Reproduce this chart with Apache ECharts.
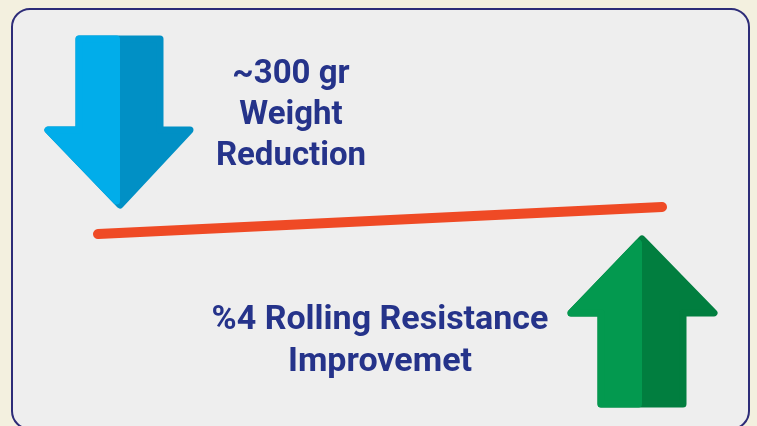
<!DOCTYPE html>
<html>
<head>
<meta charset="utf-8">
<script src="https://cdn.jsdelivr.net/npm/echarts@6/dist/echarts.min.js"></script>
<style>
    html, body { margin: 0; padding: 0; background: #f3f0df; }
    #chart { width: 757px; height: 426px; }
</style>
</head>
<body>
<div id="chart"></div>
<script>
// text blocks
const topLabel = ['~300 gr', 'Weight', 'Reduction'];
const bottomLabel = ['%4 Rolling Resistance', 'Improvemet'];

// the tilted bar: low on the left, high on the right
const slopeCats = ['before', 'after'];
const slopeValues = [0, 1];

const textColor = '#25338a';

// arrow outline with one colour per half, corners rounded by a stroke
function arrow(points, leftPts, dark, light) {
    return [
        { type: 'polygon', shape: { points: points },
          style: { fill: dark, stroke: dark, lineWidth: 7, lineJoin: 'round' } },
        { type: 'polygon', shape: { points: leftPts },
          style: { fill: light, stroke: light, lineWidth: 7, lineJoin: 'round' } }
    ];
}

document.addEventListener('DOMContentLoaded', () => {
    const chart = echarts.init(document.getElementById('chart'));

    const blueFull = [[79, 39], [160, 39], [160, 130], [190, 130], [120, 205], [48, 130], [79, 130]];
    const blueLeft = [[79, 39], [116.5, 39], [116.5, 201], [48, 130], [79, 130]];
    const greenFull = [[642, 239], [714, 313], [683, 313], [683, 404], [601, 404], [601, 313], [571, 313]];
    const greenLeft = [[638.5, 243], [638.5, 404], [601, 404], [601, 313], [571, 313]];

    const texts = [];
    const topY = [74.5, 115.5, 156.5];
    topLabel.forEach((t, i) => {
        texts.push({ type: 'text', x: 291, y: topY[i],
            style: { text: t, fill: textColor, font: 'bold 33px Roboto', align: 'center', verticalAlign: 'middle' } });
    });
    const botY = [320.5, 362];
    bottomLabel.forEach((t, i) => {
        texts.push({ type: 'text', x: 380, y: botY[i],
            style: { text: t, fill: textColor, font: 'bold 34px Roboto', align: 'center', verticalAlign: 'middle' } });
    });

    chart.setOption({
        backgroundColor: '#f3f0df',
        animation: false,
        grid: { left: 98, right: 95, top: 207, bottom: 192 },
        xAxis: { type: 'category', data: slopeCats, boundaryGap: false, show: false },
        yAxis: { type: 'value', min: 0, max: 1, show: false },
        graphic: [
            { type: 'rect', z: -10, shape: { x: 12, y: 9, width: 737, height: 420, r: 18 },
              style: { fill: '#eeeeee', stroke: '#2d2c78', lineWidth: 2 } },
            ...arrow(blueFull, blueLeft, '#0190c5', '#01adea'),
            ...arrow(greenFull, greenLeft, '#017e3f', '#03994f'),
            ...texts
        ],
        series: [{
            type: 'line',
            data: slopeValues,
            symbol: 'none',
            z: 5,
            lineStyle: { color: '#ef4a25', width: 10, cap: 'round' }
        }]
    });
});
</script>
</body>
</html>
